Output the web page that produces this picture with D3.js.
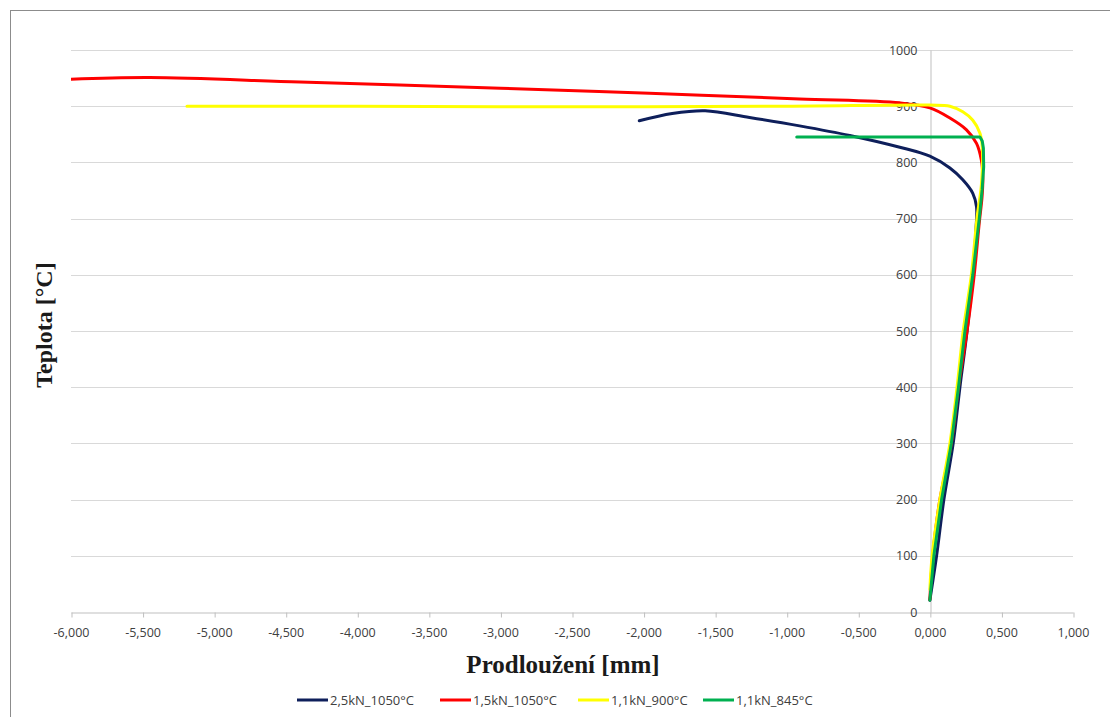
<!DOCTYPE html>
<html>
<head>
<meta charset="utf-8">
<script src="https://cdn.jsdelivr.net/npm/d3@7"></script>
<style>
  html, body { margin: 0; padding: 0; background: #fff; }
  svg { display: block; }
</style>
</head>
<body>
<svg id="chart" width="1110" height="717"></svg>
<script>
// Elongation [mm] vs temperature [°C] for four load / temperature regimes
const seriesNames = ["2,5kN_1050°C", "1,5kN_1050°C", "1,1kN_900°C", "1,1kN_845°C"];
const seriesColors = ["#0e1f5b", "#ff0000", "#ffff00", "#00b050"];

// 2,5kN_1050°C
const blueX = [0.000, 0.047, 0.098, 0.163, 0.210, 0.260, 0.300, 0.322, 0.326, 0.300, 0.230, 0.140, 0.000, -0.210, -0.560, -0.910, -1.260, -1.570, -1.800, -2.030];
const blueT = [21, 100, 200, 300, 400, 500, 600, 680, 721, 745, 769, 790, 811, 827, 848, 865, 880, 892, 887, 874];

// 1,5kN_1050°C
const redX = [0.000, 0.020, 0.070, 0.150, 0.200, 0.260, 0.310, 0.345, 0.365, 0.370, 0.360, 0.326, 0.256, 0.140, 0.000, -0.210, -0.910, -1.960, -3.000, -4.400, -5.450, -6.000];
const redT = [22, 100, 200, 300, 400, 500, 600, 692, 740, 775, 804, 834, 858, 879, 897, 906, 913, 923, 932, 943, 951, 948];

// 1,1kN_900°C
const yellowX = [0.000, 0.016, 0.070, 0.140, 0.190, 0.233, 0.290, 0.330, 0.360, 0.366, 0.350, 0.300, 0.230, 0.140, 0.000, -1.000, -2.500, -4.000, -5.190];
const yellowT = [40, 100, 200, 300, 400, 500, 600, 703, 760, 828, 852, 875, 890, 900, 902, 900, 899, 900, 900];

// 1,1kN_845°C
const greenX = [0.000, 0.028, 0.082, 0.150, 0.200, 0.245, 0.300, 0.345, 0.365, 0.376, 0.374, 0.366, 0.350, 0.000, -0.500, -0.930];
const greenT = [21, 100, 200, 300, 400, 500, 600, 700, 751, 792, 825, 838, 845, 845, 845, 845];

const xTicks = [-6, -5.5, -5, -4.5, -4, -3.5, -3, -2.5, -2, -1.5, -1, -0.5, 0, 0.5, 1];
const yTicks = [0, 100, 200, 300, 400, 500, 600, 700, 800, 900, 1000];

const svg = d3.select("#chart");
const plot = { left: 71, right: 1073, top: 50, bottom: 612 };

const x = d3.scaleLinear().domain([-6, 1]).range([plot.left, plot.right]);
const y = d3.scaleLinear().domain([0, 1000]).range([plot.bottom, plot.top]);

// chart frame
svg.append("rect")
  .attr("x", 10.5).attr("y", 10.5)
  .attr("width", 1120).attr("height", 720)
  .attr("fill", "#fff").attr("stroke", "#8c8c8c").attr("stroke-width", 1);

// horizontal gridlines
svg.append("g")
  .selectAll("line")
  .data(yTicks.filter(d => d > 0))
  .join("line")
  .attr("x1", plot.left).attr("x2", plot.right)
  .attr("y1", d => Math.round(y(d)) + 0.5).attr("y2", d => Math.round(y(d)) + 0.5)
  .attr("stroke", "#d9d9d9").attr("stroke-width", 1);

const tickFont = "'Open Sans', 'Liberation Sans', sans-serif";

// x axis along T = 0
const xAxis = d3.axisBottom(x)
  .tickValues(xTicks)
  .tickSize(5)
  .tickSizeOuter(0)
  .tickFormat(d => d3.format(".3f")(d).replace(".", ",").replace("−", "-"));

const gx = svg.append("g")
  .attr("transform", `translate(0,${Math.round(y(0)) + 0.5})`)
  .call(xAxis);
gx.select(".domain").attr("stroke", "#bfbfbf");
gx.selectAll(".tick line").attr("stroke", "#bfbfbf").attr("transform", "translate(0.5,0)");
gx.selectAll(".tick text")
  .attr("y", 16)
  .attr("fill", "#404040")
  .style("font-family", tickFont)
  .style("font-size", "12.5px");

// y axis crossing at x = 0
const yAxis = d3.axisLeft(y)
  .tickValues(yTicks)
  .tickSize(0)
  .tickPadding(13)
  .tickFormat(d3.format("d"));

const gy = svg.append("g")
  .attr("transform", `translate(${Math.round(x(0)) + 0.5},0)`)
  .call(yAxis);
gy.select(".domain").attr("stroke", "#bfbfbf");
gy.selectAll(".tick text")
  .attr("fill", "#404040")
  .style("font-family", tickFont)
  .style("font-size", "12.5px");

// series lines (the 845 °C run is a hold step, drawn with straight segments)
const smooth = d3.line()
  .x(d => x(d[0]))
  .y(d => y(d[1]))
  .curve(d3.curveCatmullRom.alpha(0.5));
const straight = d3.line()
  .x(d => x(d[0]))
  .y(d => y(d[1]));

const series = [
  { name: seriesNames[0], color: seriesColors[0], xs: blueX, ts: blueT, gen: smooth },
  { name: seriesNames[1], color: seriesColors[1], xs: redX, ts: redT, gen: smooth },
  { name: seriesNames[2], color: seriesColors[2], xs: yellowX, ts: yellowT, gen: smooth },
  { name: seriesNames[3], color: seriesColors[3], xs: greenX, ts: greenT, gen: straight }
];

svg.append("clipPath").attr("id", "plot-clip")
  .append("rect")
  .attr("x", plot.left).attr("y", plot.top - 10)
  .attr("width", plot.right - plot.left).attr("height", plot.bottom - plot.top + 10);

svg.append("g")
  .attr("clip-path", "url(#plot-clip)")
  .selectAll("path")
  .data(series)
  .join("path")
  .attr("d", s => s.gen(s.xs.map((v, i) => [v, s.ts[i]])))
  .attr("fill", "none")
  .attr("stroke", s => s.color)
  .attr("stroke-width", 3)
  .attr("stroke-linejoin", "round")
  .attr("stroke-linecap", "round");

// axis titles
svg.append("text")
  .attr("x", 563).attr("y", 673)
  .attr("text-anchor", "middle")
  .attr("fill", "#1a1a1a")
  .style("font-family", "'Liberation Serif', 'DejaVu Serif', serif")
  .style("font-weight", "bold")
  .style("font-size", "25px")
  .text("Prodloužení [mm]");

svg.append("text")
  .attr("transform", "translate(52,325) rotate(-90)")
  .attr("text-anchor", "middle")
  .attr("fill", "#1a1a1a")
  .style("font-family", "'Liberation Serif', 'DejaVu Serif', serif")
  .style("font-weight", "bold")
  .style("font-size", "24px")
  .text("Teplota [°C]");

// legend
const legendX = [297, 440, 578, 703];
const legend = svg.append("g")
  .selectAll("g")
  .data(series)
  .join("g")
  .attr("transform", (d, i) => `translate(${legendX[i]},700)`);
legend.append("line")
  .attr("x1", 0).attr("x2", 31)
  .attr("stroke", d => d.color).attr("stroke-width", 3);
legend.append("text")
  .attr("x", 33).attr("dy", "0.35em")
  .attr("fill", "#404040")
  .style("font-family", tickFont)
  .style("font-size", "13px")
  .text(d => d.name);
</script>
</body>
</html>
